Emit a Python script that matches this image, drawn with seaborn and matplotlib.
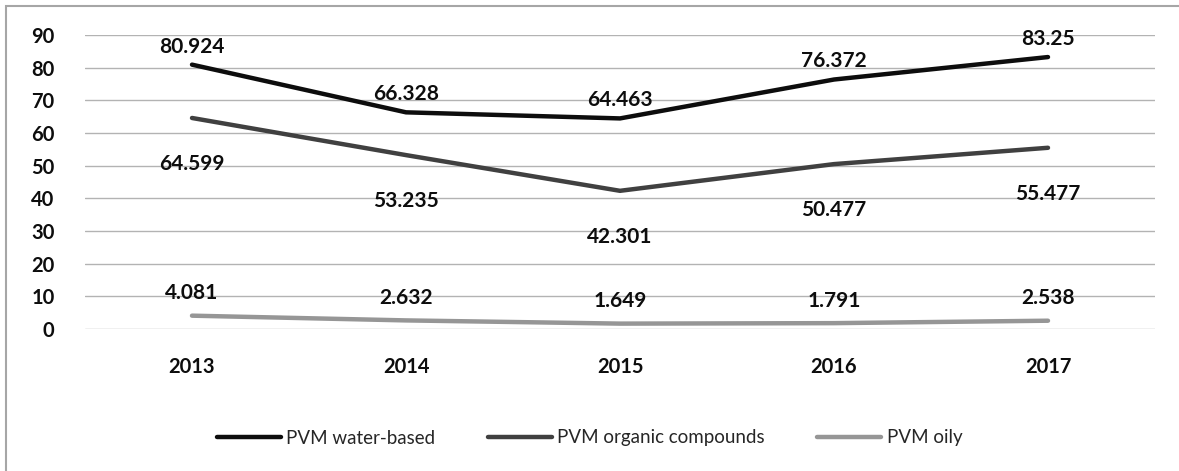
import matplotlib.pyplot as plt
import seaborn as sns
import pandas as pd
from matplotlib.patches import Rectangle

# values
years = ["2013", "2014", "2015", "2016", "2017"]
water_based = [80.924, 66.328, 64.463, 76.372, 83.25]
organic = [64.599, 53.235, 42.301, 50.477, 55.477]
oily = [4.081, 2.632, 1.649, 1.791, 2.538]
y_ticks = [0, 10, 20, 30, 40, 50, 60, 70, 80, 90]

series_names = ["PVM water-based", "PVM organic compounds", "PVM oily"]
colors = {"PVM water-based": "#0d0d0d",
          "PVM organic compounds": "#404040",
          "PVM oily": "#969696"}
# vertical label offsets in points (above / below the line)
offsets = {"PVM water-based": 13, "PVM organic compounds": -33, "PVM oily": 16}

df = pd.DataFrame({"Year": years,
                   "PVM water-based": water_based,
                   "PVM organic compounds": organic,
                   "PVM oily": oily})
df_long = df.melt(id_vars="Year", var_name="Series", value_name="Value")
df_long["x"] = df_long["Year"].map({y: i for i, y in enumerate(years)})

sns.set_style("white")
plt.rcParams["font.family"] = ["Lato", "DejaVu Sans"]

fig = plt.figure(figsize=(11.79, 4.71), dpi=100)
ax = fig.add_axes([85 / 1179, 1 - 329 / 471, 1070 / 1179, 294 / 471])

sns.lineplot(data=df_long, x="x", y="Value", hue="Series", palette=colors,
             hue_order=series_names, linewidth=3.2, ax=ax, legend=False,
             solid_capstyle="round")

for name in series_names:
    for i, v in enumerate(df[name]):
        ax.annotate(f"{v:g}", (i, v), xytext=(0, offsets[name]),
                    textcoords="offset points", ha="center", va="center",
                    fontsize=15, fontweight="bold", color="#0d0d0d")

ax.set_xlim(-0.5, len(years) - 0.5)
ax.set_ylim(0, 90)
ax.set_yticks(y_ticks)
ax.set_xticks(range(len(years)))
ax.set_xticklabels(years)
ax.tick_params(axis="both", length=0, labelsize=14.5, colors="#0d0d0d")
ax.tick_params(axis="x", pad=20)
ax.tick_params(axis="y", pad=22)
for lbl in ax.get_xticklabels() + ax.get_yticklabels():
    lbl.set_fontweight("bold")
ax.grid(axis="y", color="#b3b3b3", linewidth=1)
ax.set_axisbelow(True)
for s in ax.spines.values():
    s.set_visible(False)
ax.set_xlabel("")
ax.set_ylabel("")

handles = [plt.Line2D([], [], color=colors[n], linewidth=3.2) for n in series_names]
fig.legend(handles, series_names, loc="center", bbox_to_anchor=(0.5, 1 - 438 / 471),
           ncol=3, frameon=False, fontsize=13.5, handlelength=3.4,
           handletextpad=0.3, columnspacing=2.8)

fig.patches.append(Rectangle((6 / 1179, -0.1), 1.2, 1 - 6 / 471 + 0.1,
                             transform=fig.transFigure, fill=False,
                             edgecolor="#a6a6a6", linewidth=1.5))

fig.savefig("out.png", dpi=100)
